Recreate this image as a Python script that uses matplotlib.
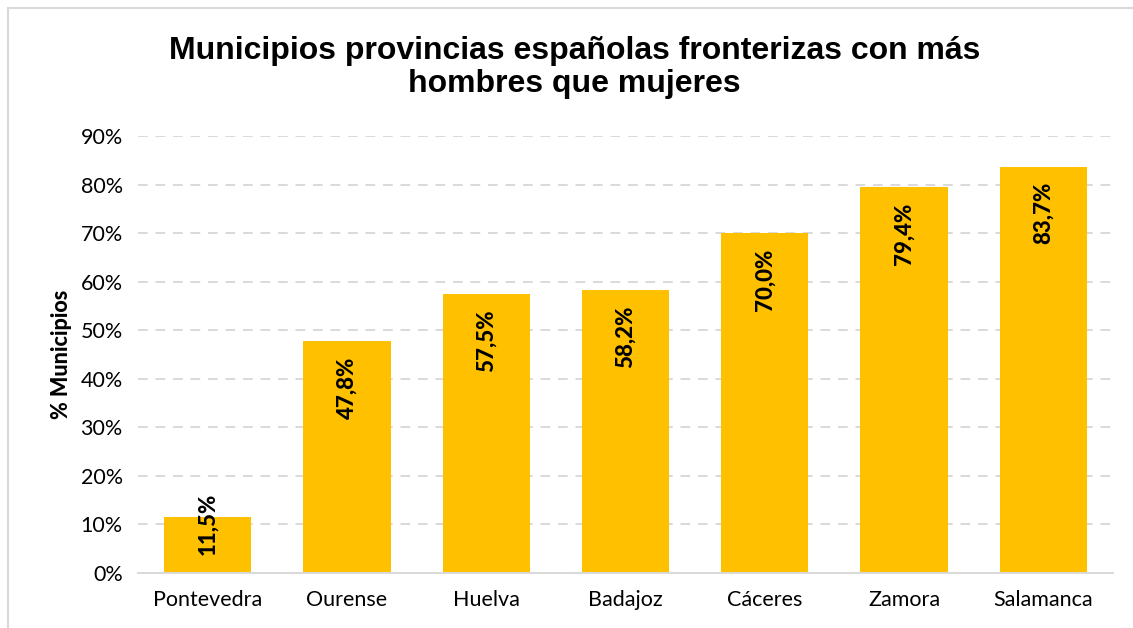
import matplotlib.pyplot as plt
from matplotlib.patches import Rectangle
from matplotlib.ticker import FuncFormatter, MultipleLocator
# ------------------------------ #

provincias = ['Pontevedra', 'Ourense', 'Huelva', 'Badajoz', 'Cáceres', 'Zamora', 'Salamanca']
porcentajes = [11.5, 47.8, 57.5, 58.2, 70.0, 79.4, 83.7]
titulo = 'Municipios provincias españolas fronterizas con más\nhombres que mujeres'
etiquetaY = '% Municipios'
# ------------------------------ #

barColor = '#FFC000'
gridColor = '#D9D9D9'
tickFont = 'Lato'

fig = plt.figure(figsize = (11.33, 6.28), dpi = 100, facecolor = 'white')
ax = fig.add_axes([0.1218, 0.0876, 0.8605, 0.6958])

# thin grey frame round the chart area
fig.patches.append(Rectangle((8 / 1133, -0.1), 1.2, 1 - 8 / 628 + 0.1,
	transform = fig.transFigure, fill = False, edgecolor = '#D9D9D9', linewidth = 1.5))

bars = ax.bar(provincias, porcentajes, width = 0.626, color = barColor, zorder = 3)

ax.set_ylim(0, 90)
ax.set_xlim(-0.5, len(provincias) - 0.5)
ax.yaxis.set_major_locator(MultipleLocator(10))
ax.yaxis.set_major_formatter(FuncFormatter(lambda v, pos: f'{v:.0f}%'))
ax.grid(axis = 'y', color = gridColor, linestyle = (0, (5, 4)), linewidth = 1.4, zorder = 0)

for side in ['top', 'right', 'left']:
	ax.spines[side].set_visible(False)
ax.spines['bottom'].set_color(gridColor)
ax.spines['bottom'].set_linewidth(1.4)
ax.spines['bottom'].set_zorder(4)

ax.tick_params(axis = 'both', length = 0, labelsize = 15.5, pad = 12, colors = 'black')
ax.tick_params(axis = 'y', pad = 11)
for lbl in ax.get_xticklabels() + ax.get_yticklabels():
	lbl.set_family(tickFont)

ax.set_ylabel(etiquetaY, fontsize = 15.5, fontweight = 900, family = tickFont, labelpad = 6)

fig.text(0.507, 0.893, titulo, ha = 'center', va = 'center', fontsize = 23,
	fontweight = 'bold', family = 'Liberation Sans', linespacing = 1.12)

for bar, val in zip(bars, porcentajes):
	x = bar.get_x() + bar.get_width() / 2
	txt = f'{val:.1f}%'.replace('.', ',')
	if val < 20:
		ax.annotate(txt, xy = (x, 0), xytext = (0, 13), textcoords = 'offset points',
			ha = 'center', va = 'bottom', rotation = 90, fontsize = 16,
			fontweight = 900, family = tickFont, zorder = 5)
	else:
		ax.annotate(txt, xy = (x, val), xytext = (0, -11), textcoords = 'offset points',
			ha = 'center', va = 'top', rotation = 90, fontsize = 16,
			fontweight = 900, family = tickFont, zorder = 5)

plt.savefig('out.png', dpi = 100, facecolor = 'white')
